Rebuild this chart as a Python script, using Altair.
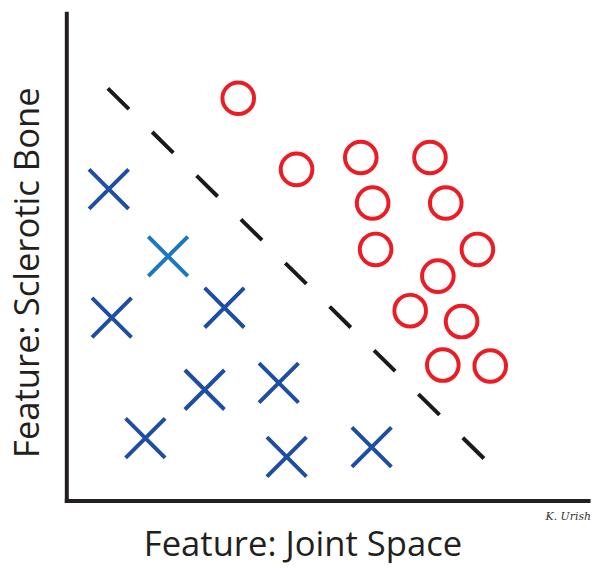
import altair as alt
import pandas as pd

# Blue crosses (class 1); positions in the picture's own units (x right, y up)
cross_x = [43, 103, 46, 160, 140, 215, 80, 223, 309]
cross_y = [315, 247, 185, 195, 112, 119, 63, 44, 54]
cross_shade = ["dark", "light", "dark", "dark", "dark", "dark", "dark", "dark", "dark"]

# Red circles (class 2)
circle_x = [174, 233, 298, 368, 310, 384, 313, 416, 376, 348, 400, 381, 429]
circle_y = [407, 335, 347, 347, 301, 301, 254, 254, 227, 192, 181, 137, 136]

# Dashed decision boundary (two ends)
boundary_x = [42, 424]
boundary_y = [417, 41]

# Signature annotation
sig_x = [485]
sig_y = [-17]
sig_text = ["K. Urish"]

x_title = "Feature: Joint Space"
y_title = "Feature: Sclerotic Bone"

crosses = pd.DataFrame({"x": cross_x, "y": cross_y, "shade": cross_shade})
circles = pd.DataFrame({"x": circle_x, "y": circle_y})
boundary = pd.DataFrame({"x": boundary_x, "y": boundary_y})
sig = pd.DataFrame({"x": sig_x, "y": sig_y, "t": sig_text})

FONT = "Open Sans"
TXT = "#231f20"

xs = alt.Scale(domain=[0, 528], nice=False, zero=False)
ys = alt.Scale(domain=[0, 493], nice=False, zero=False)

x_axis = alt.Axis(title=x_title, titleX=239, titleY=56, titleBaseline="alphabetic",
                  titleAlign="center", titleAnchor="start")
y_axis = alt.Axis(title=y_title, titleX=-28, titleY=262, titleBaseline="alphabetic",
                  titleAlign="center", titleAnchor="start", titleAngle=-90)

X = alt.X("x:Q", scale=xs, axis=x_axis)
Y = alt.Y("y:Q", scale=ys, axis=y_axis)

line = alt.Chart(boundary).mark_line(
    color="#1a1a1a", strokeWidth=4, strokeDash=[30, 33], strokeCap="butt"
).encode(x=X, y=Y)

xmarks = alt.Chart(crosses).mark_point(
    shape="M-1,-1L1,1M-1,1L1,-1", filled=False, strokeWidth=4, size=1600, opacity=1
).encode(
    x=X, y=Y,
    color=alt.Color("shade:N", scale=alt.Scale(domain=["dark", "light"],
                                                range=["#1d4ea3", "#1b78c0"]), legend=None),
)

omarks = alt.Chart(circles).mark_point(
    shape="circle", filled=False, strokeWidth=4, size=1024, color="#ec1c24", opacity=1
).encode(x=X, y=Y)

sigmark = alt.Chart(sig).mark_text(
    align="left", baseline="middle", fontSize=11, fontStyle="italic",
    font="DejaVu Serif", color="#333333", clip=False
).encode(x=X, y=Y, text="t:N")

chart = alt.layer(line, xmarks, omarks, sigmark).properties(
    width=528, height=493,
    padding={"left": 59, "top": 2, "right": 6, "bottom": 60},
    autosize=alt.AutoSizeParams(type="none"),
).configure_view(strokeWidth=0).configure_axis(
    grid=False, ticks=False, labels=False, domainWidth=4, domainColor=TXT,
    domainCap="square", titleFont=FONT, titleFontSize=35, titleFontWeight="normal",
    titleColor=TXT,
)

chart.save("out.html", embed_options={"renderer": "svg", "actions": False})
